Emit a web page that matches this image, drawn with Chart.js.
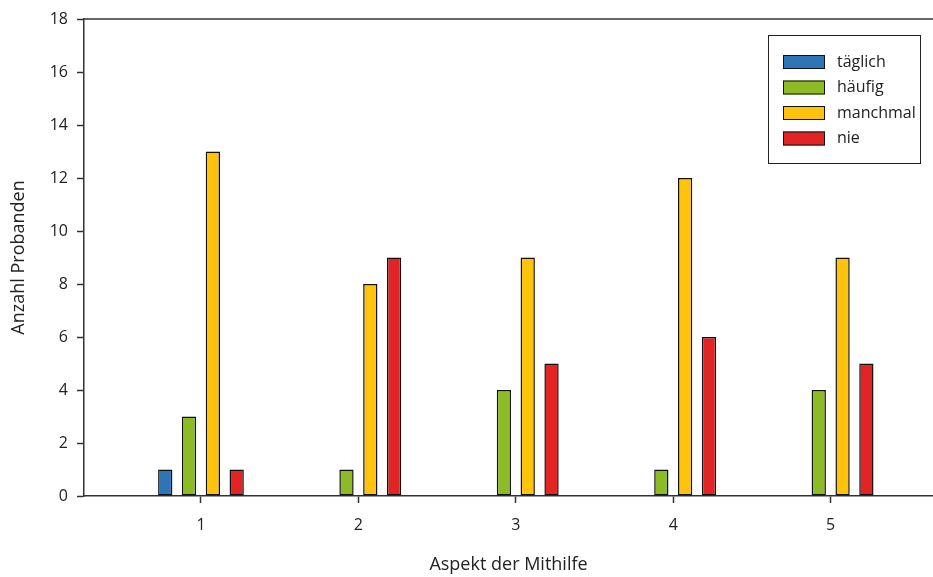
<!DOCTYPE html>
<html>
<head>
<meta charset="utf-8">
<script src="https://cdn.jsdelivr.net/npm/chart.js@4"></script>
<style>
  html, body { margin: 0; padding: 0; background: #fff; }
  #wrap { width: 933px; height: 577px; }
</style>
</head>
<body>
<div id="wrap"><canvas id="c"></canvas></div>
<script>
const aspekte = [1, 2, 3, 4, 5];
const taeglich = [1, 0, 0, 0, 0];
const haeufig = [3, 1, 4, 1, 4];
const manchmal = [13, 8, 9, 12, 9];
const nie = [1, 9, 5, 6, 5];
const serien = ["täglich", "häufig", "manchmal", "nie"];
const farben = ["#2E75B6", "#8DBB25", "#FFC30B", "#E32424"];
const yTicks = [0, 2, 4, 6, 8, 10, 12, 14, 16, 18];

const font = "'Open Sans', sans-serif";
const ink = "#222";

const points = (arr) => aspekte.map((a, i) => ({ x: a, y: arr[i] }));

// legend box inside the plot, top right, with a frame
const boxLegend = {
  id: "boxLegend",
  afterDraw(chart) {
    const ctx = chart.ctx;
    ctx.save();
    ctx.strokeStyle = ink;
    ctx.lineWidth = 1;
    ctx.strokeRect(768.5, 35.5, 152, 128);
    ctx.font = "16px " + font;
    ctx.textBaseline = "middle";
    ctx.textAlign = "left";
    chart.data.datasets.forEach((ds, i) => {
      const y = 62 + i * 25.5;
      ctx.fillStyle = ds.backgroundColor;
      ctx.fillRect(783, y - 7, 42, 14);
      ctx.strokeStyle = "#111";
      ctx.strokeRect(783.5, y - 6.5, 41, 13);
      ctx.fillStyle = ink;
      ctx.fillText(ds.label, 837, y);
    });
    // top frame line
    const a = chart.chartArea;
    ctx.strokeStyle = "#333";
    ctx.lineWidth = 1.5;
    ctx.beginPath();
    ctx.moveTo(a.left, a.top);
    ctx.lineTo(a.right, a.top);
    ctx.stroke();
    ctx.restore();
  },
};

const datasets = [taeglich, haeufig, manchmal, nie].map((arr, i) => ({
  label: serien[i],
  data: points(arr),
  backgroundColor: farben[i],
  borderColor: "#111",
  borderWidth: 1.5,
  borderSkipped: false,
  barPercentage: 0.6,
  categoryPercentage: 0.605,
}));

new Chart(document.getElementById("c"), {
  type: "bar",
  data: { datasets: datasets },
  options: {
    responsive: true,
    maintainAspectRatio: false,
    animation: false,
    layout: { padding: { top: 19, right: 0, left: 0, bottom: 0 } },
    plugins: {
      legend: { display: false },
      tooltip: { enabled: false },
    },
    scales: {
      x: {
        type: "linear",
        offset: false,
        min: 0.257,
        max: 5.65,
        afterBuildTicks: (s) => { s.ticks = aspekte.map((v) => ({ value: v })); },
        afterFit: (s) => { s.height = 81; },
        grid: { display: true, offset: false, drawOnChartArea: false, tickLength: 7, color: "#333", tickWidth: 1.5 },
        border: { display: true, color: "#333", width: 1.5 },
        ticks: { color: ink, font: { family: font, size: 16 }, padding: 13, maxRotation: 0 },
        title: { display: true, text: "Aspekt der Mithilfe", color: ink, font: { family: font, size: 18 }, padding: { top: 19, bottom: 1 } },
      },
      y: {
        min: 0,
        max: 18,
        afterBuildTicks: (s) => { s.ticks = yTicks.map((v) => ({ value: v })); },
        afterFit: (s) => { s.width = 84; },
        grid: { display: true, drawOnChartArea: false, tickLength: 7, color: "#333", tickWidth: 1.5 },
        border: { display: true, color: "#333", width: 1.5 },
        ticks: { color: ink, font: { family: font, size: 16 }, padding: 9 },
        title: { display: true, text: "Anzahl Probanden", color: ink, font: { family: font, size: 18 }, padding: { top: 8, bottom: 14 } },
      },
    },
  },
  plugins: [boxLegend],
});
</script>
</body>
</html>
